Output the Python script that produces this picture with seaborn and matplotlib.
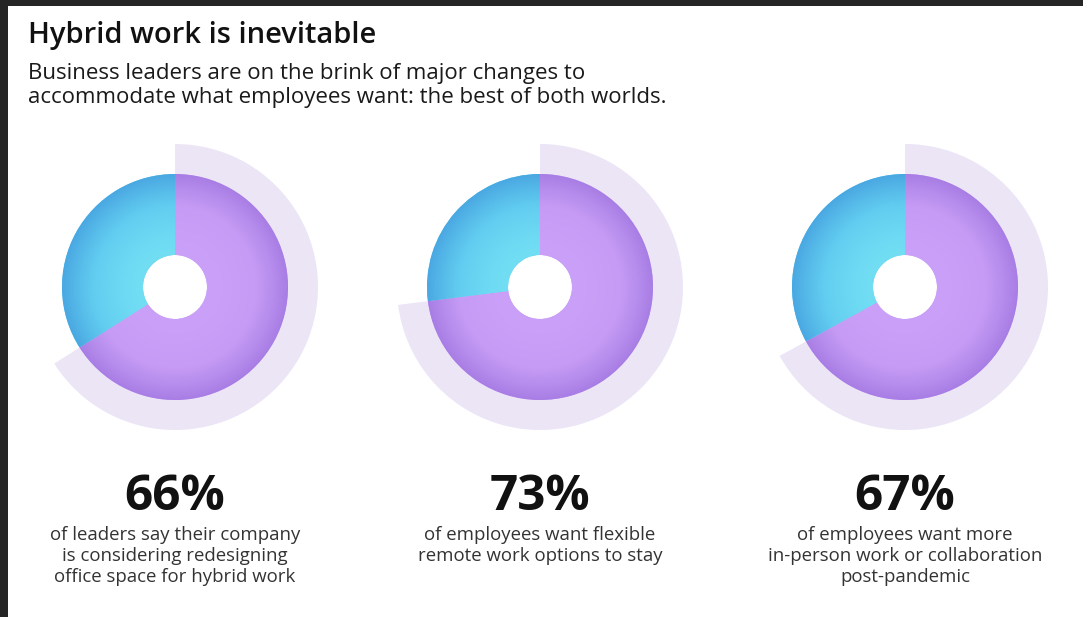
import numpy as np
import matplotlib
matplotlib.use("Agg")
import matplotlib.pyplot as plt
from matplotlib.patches import Rectangle
from matplotlib.colors import LinearSegmentedColormap
import seaborn as sns

# ---- data ----
title = "Hybrid work is inevitable"
subtitle = ["Business leaders are on the brink of major changes to",
            "accommodate what employees want: the best of both worlds."]
values = [66, 73, 67]
labels = ["66%", "73%", "67%"]
descriptions = [
    ["of leaders say their company", "is considering redesigning", "office space for hybrid work"],
    ["of employees want flexible", "remote work options to stay"],
    ["of employees want more", "in-person work or collaboration", "post-pandemic"],
]

sns.set_theme(style="white")
plt.rcParams['font.family'] = ['Open Sans', 'DejaVu Sans']

W, H = 1083, 617
fig = plt.figure(figsize=(W / 100, H / 100), dpi=100)
ax = fig.add_axes([0, 0, 1, 1])
ax.set_axis_off()

purple_pal = sns.blend_palette(["#cba0f8", "#c59bf5", "#a87ee5"], 3)
blue_pal = sns.blend_palette(["#72def4", "#62cdf0", "#4aa8e2"], 3)
arc_col = "#ebe5f6"

centers_x = [175, 540, 905]
cy = H - 287
r_pie, r_hole, r_arc = 113, 32, 143


def shade(wedge, cols, cx, cy, r0, r1):
    n = 400
    xs = np.linspace(-r1, r1, n)
    X, Y = np.meshgrid(xs, xs)
    R = np.hypot(X, Y)
    t = np.clip((R - r0) / (r1 - r0), 0, 1) ** 1.4
    cmap = LinearSegmentedColormap.from_list("g", cols)
    im = ax.imshow(t, cmap=cmap, extent=[cx - r1, cx + r1, cy - r1, cy + r1],
                   origin="lower", interpolation="bilinear", zorder=3, vmin=0, vmax=1)
    im.set_clip_path(wedge)


for cx, v, lab, desc in zip(centers_x, values, labels, descriptions):
    # outer arc showing the share
    ax.pie([v, 100 - v], colors=[arc_col, "none"], startangle=90, counterclock=False,
           radius=r_arc, center=(cx, cy), wedgeprops=dict(width=r_arc - r_pie, linewidth=0))
    # inner donut
    wedges, _ = ax.pie([v, 100 - v], colors=[purple_pal[1], blue_pal[1]], startangle=90,
                       counterclock=False, radius=r_pie, center=(cx, cy),
                       wedgeprops=dict(width=r_pie - r_hole, linewidth=0))
    for w in wedges:
        w.set_zorder(2)
    shade(wedges[0], list(purple_pal), cx, cy, r_hole, r_pie)
    shade(wedges[1], list(blue_pal), cx, cy, r_hole, r_pie)

    ax.text(cx, H - 510, lab, ha="center", va="baseline", fontsize=35.5,
            fontweight="bold", color="#111111")
    for i, line in enumerate(desc):
        ax.text(cx, H - (540 + 21 * i), line, ha="center", va="baseline",
                fontsize=13.4, color="#333333")

ax.text(28, H - 43, title, ha="left", va="baseline", fontsize=21,
        fontweight="semibold", color="#111111")
for i, line in enumerate(subtitle):
    ax.text(28, H - (79 + 24 * i), line, ha="left", va="baseline", fontsize=16,
            color="#1a1a1a")

# dark frame strips (top and left)
ax.add_patch(Rectangle((0, H - 6), W, 6, color="#252525", zorder=10, linewidth=0))
ax.add_patch(Rectangle((0, 0), 8, H, color="#252525", zorder=10, linewidth=0))

ax.set_xlim(0, W)
ax.set_ylim(0, H)
ax.set_aspect("auto")
ax.set_axis_off()

fig.savefig("out.png", dpi=100, facecolor="white")
